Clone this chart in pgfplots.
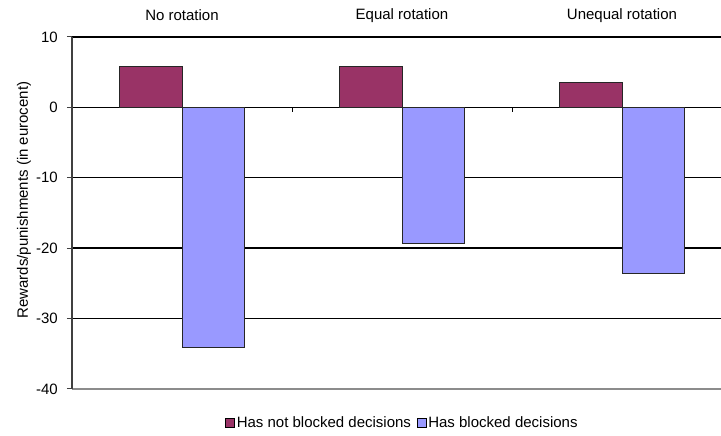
\documentclass[border=0pt]{standalone}
\usepackage{pgfplots}
\pgfplotsset{compat=1.18}
\usepackage{fontspec}
\setmainfont{Liberation Sans}
\definecolor{barred}{HTML}{993366}
\definecolor{barblue}{HTML}{9999FF}
\begin{document}
\fontsize{15}{18}\selectfont
\begin{tikzpicture}
\useasboundingbox (-72pt,-47pt) rectangle (649pt,389pt);
\begin{axis}[
  at={(0pt,0pt)}, anchor=south west,
  scale only axis, width=649pt, height=352pt,
  xmin=0.5, xmax=3.45, ymin=-40, ymax=10,
  clip=false,
  axis line style={draw=none},
  xtick={1,2,3},
  xticklabels={No rotation, Equal rotation, Unequal rotation},
  xticklabel pos=top, xtick style={draw=none},
  x tick label style={anchor=center, yshift=16.5pt},
  ytick={-40,-30,-20,-10,0,10},
  yticklabels={-40,-30,-20,-10,0,10},
  ytick pos=left,
  y tick label style={xshift=-4pt},
  ytick style={draw=black!75, line width=1pt},
  tick align=outside, major tick length=5pt,
  ymajorgrids, grid style={black, line width=1.4pt},
  tick label style={font=\fontsize{15}{18}\selectfont},
  legend style={at={(0.5085,-0.0966)}, anchor=center, draw=none, fill=none,
    legend columns=2, font=\fontsize{15}{18}\selectfont,
    /tikz/every even column/.append style={column sep=4pt},
    nodes={inner sep=1.5pt}},
]
\addplot[ybar, bar width=0.286, bar shift=-0.143, fill=barred, draw=black!85, line width=0.9pt,
  legend image code/.code={\draw[fill=barred, draw=black, line width=0.8pt] (0pt,-4.5pt) rectangle (9.5pt,5pt);}]
  coordinates {(1,5.75) (2,5.75) (3,3.5)};
\addlegendentry{Has not blocked decisions}
\addplot[ybar, bar width=0.286, bar shift=0.143, fill=barblue, draw=black!85, line width=0.9pt,
  legend image code/.code={\draw[fill=barblue, draw=black, line width=0.8pt] (0pt,-4.5pt) rectangle (9.5pt,5pt);}]
  coordinates {(1,-34.1) (2,-19.3) (3,-23.6)};
\addlegendentry{Has blocked decisions}
\addplot[black, line width=1pt, forget plot] coordinates {(1.5,0) (1.5,-0.7)};
\addplot[black, line width=1pt, forget plot] coordinates {(2.5,0) (2.5,-0.7)};
\draw[black!45, line width=1.4pt] (rel axis cs:0,0) -- (rel axis cs:1,0);
\draw[black!75, line width=1.2pt] (rel axis cs:0,0) -- (rel axis cs:0,1);
\end{axis}
\node[rotate=90] at (-48pt,189pt) {Rewards/punishments (in eurocent)};
\end{tikzpicture}
\end{document}
